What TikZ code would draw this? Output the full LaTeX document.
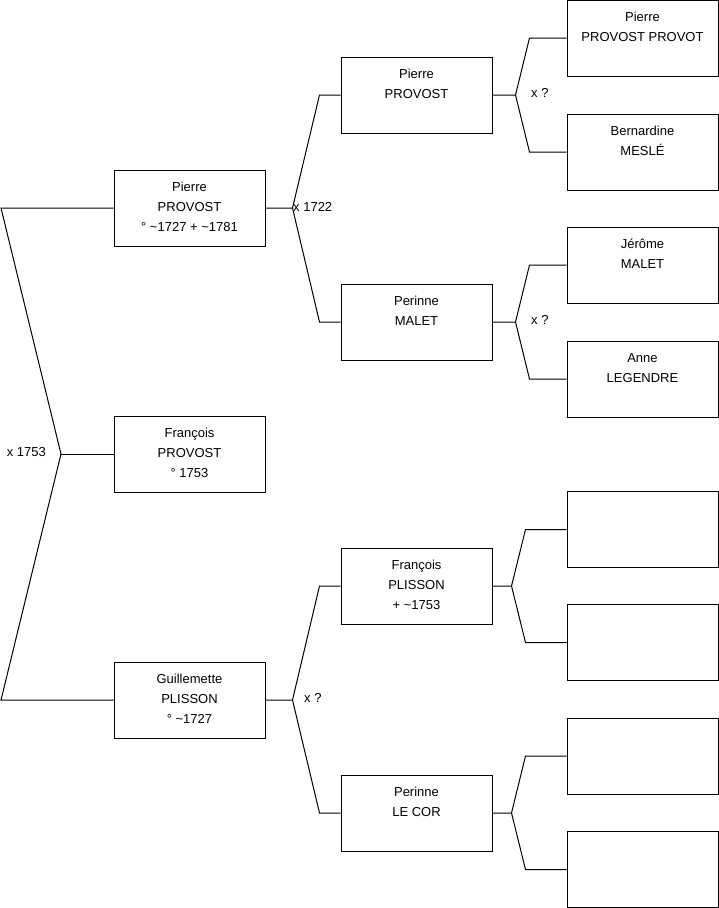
\documentclass[tikz,border=0pt]{standalone}
\usepackage{fontspec}
\setmainfont{Liberation Sans}
\usepackage{tikz}
\usetikzlibrary{positioning, calc}
\newcommand{\who}[1]{\begin{tabular}[t]{@{}c@{}}#1\end{tabular}}

\begin{document}
\begin{tikzpicture}[
    x=1pt, y=-1pt,
    font=\fontsize{13}{20}\selectfont,
    person/.style={rectangle, draw=black, line width=1pt, minimum width=151pt,
                   inner sep=0pt, text height=21.4pt, text depth=54.6pt},
    link/.style={draw=black, line width=1pt},
    union/.style={inner sep=0pt}
]
    \useasboundingbox (0,0) rectangle (719,908);

    % Generation 1
    \node[person] (pierreA) at (189.5,208) {\who{Pierre\\PROVOST\\° \textasciitilde1727 + \textasciitilde1781}};
    \node[person] (francoisA) at (189.5,454) {\who{François\\PROVOST\\° 1753}};
    \node[person] (guillA) at (189.5,700) {\who{Guillemette\\PLISSON\\° \textasciitilde1727}};

    % Generation 2
    \node[person] (pierreB) at (416.5,95) {\who{Pierre\\PROVOST}};
    \node[person] (perinneA) at (416.5,322) {\who{Perinne\\MALET}};
    \node[person] (francoisB) at (416.5,586) {\who{François\\PLISSON\\+ \textasciitilde1753}};
    \node[person] (perinneB) at (416.5,813) {\who{Perinne\\LE COR}};

    % Generation 3
    \node[person] (pierreC) at (642.5,38) {\who{Pierre\\PROVOST PROVOT}};
    \node[person] (bernardine) at (642.5,152) {\who{Bernardine\\MESLÉ}};
    \node[person] (jerome) at (642.5,265) {\who{Jérôme\\MALET}};
    \node[person] (anne) at (642.5,379) {\who{Anne\\LEGENDRE}};
    \node[person] (emptyA) at (642.5,529.5) {};
    \node[person] (emptyB) at (642.5,642.5) {};
    \node[person] (emptyC) at (642.5,756) {};
    \node[person] (emptyD) at (642.5,869.5) {};

    % Marriage of the parents
    \coordinate (m0) at (61,454);
    \coordinate (m0a) at (1,208);
    \coordinate (m0b) at (1,700);
    \draw[link] (pierreA.west) -- (m0a) -- (m0) -- (m0b) -- (guillA.west);
    \draw[link] (m0) -- (francoisA.west);
    \node[union, anchor=east] (u0) at (46,452) {x 1753};

    % Forks to the parents of each person
    \foreach \from/\up/\dn/\stub/\run in {pierreA/pierreB/perinneA/27/27,
                                          guillA/francoisB/perinneB/27/27,
                                          pierreB/pierreC/bernardine/23/14,
                                          perinneA/jerome/anne/23/14,
                                          francoisB/emptyA/emptyB/19/14,
                                          perinneB/emptyC/emptyD/19/14} {
        \draw[link] (\from.east) -- ++(\stub,0) coordinate (k-\from)
            -- ($(k-\from |- \up.west)+(\run,0)$) -- (\up.west);
        \draw[link] (k-\from) -- ($(k-\from |- \dn.west)+(\run,0)$) -- (\dn.west);
    }

    % Marriage labels
    \node[union, anchor=west] (u1) at (293,207) {x 1722};
    \node[union, anchor=west] (u2) at (304,698) {x ?};
    \node[union, anchor=west] (u3) at (531,93) {x ?};
    \node[union, anchor=west] (u4) at (531,320) {x ?};
\end{tikzpicture}
\end{document}
